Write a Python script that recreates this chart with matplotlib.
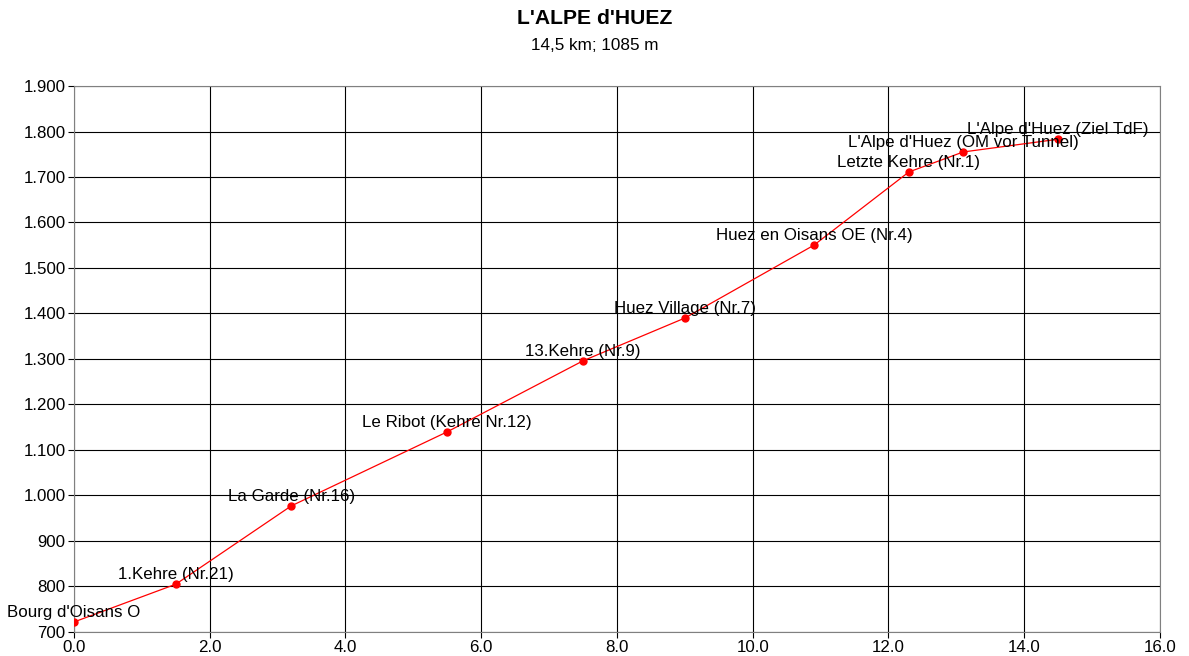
import matplotlib
matplotlib.use("Agg")
import matplotlib.pyplot as plt
from matplotlib.ticker import FuncFormatter, MultipleLocator

plt.rcParams['font.family'] = ['Liberation Sans', 'DejaVu Sans']

km = [0.0, 1.5, 3.2, 5.5, 7.5, 9.0, 10.9, 12.3, 13.1, 14.5]
alt = [722, 805, 977, 1140, 1296, 1390, 1550, 1711, 1755, 1783]
names = ["Bourg d'Oisans O", "1.Kehre (Nr.21)", "La Garde (Nr.16)", "Le Ribot (Kehre Nr.12)",
         "13.Kehre (Nr.9)", "Huez Village (Nr.7)", "Huez en Oisans OE (Nr.4)",
         "Letzte Kehre (Nr.1)", "L'Alpe d'Huez (OM vor Tunnel)", "L'Alpe d'Huez (Ziel TdF)"]
title = "L'ALPE d'HUEZ"
subtitle = "14,5 km; 1085 m"

fig = plt.figure(figsize=(11.89, 6.56), dpi=100)
ax = fig.add_axes([0.0622, 0.0366, 0.9134, 0.8323])
ax.plot(km, alt, color='red', lw=0.9, marker='o', ms=5, zorder=3)
for x, y, n in zip(km, alt, names):
    ax.annotate(n, (x, y), xytext=(0, 1.5), textcoords='offset points',
                ha='center', va='bottom', fontsize=12.2, color='black', zorder=4)

ax.set_xlim(0, 16)
ax.set_ylim(700, 1900)
ax.xaxis.set_major_locator(MultipleLocator(2))
ax.yaxis.set_major_locator(MultipleLocator(100))
ax.xaxis.set_major_formatter(FuncFormatter(lambda v, p: f"{v:.1f}"))
ax.yaxis.set_major_formatter(FuncFormatter(lambda v, p: f"{int(v):,}".replace(',', '.')))
ax.grid(True, color='black', lw=0.8)
ax.set_axisbelow(True)
for s in ax.spines.values():
    s.set_color('#808080')
    s.set_linewidth(0.8)
ax.tick_params(axis='both', labelsize=12.2, length=4, width=0.8, direction='out', color='black', pad=2)

fig.text(0.5, 1 - 18/656, title, ha='center', va='center', fontsize=15.2, fontweight='bold')
fig.text(0.5, 1 - 45/656, subtitle, ha='center', va='center', fontsize=12.3)

fig.savefig("out.png", dpi=100)
